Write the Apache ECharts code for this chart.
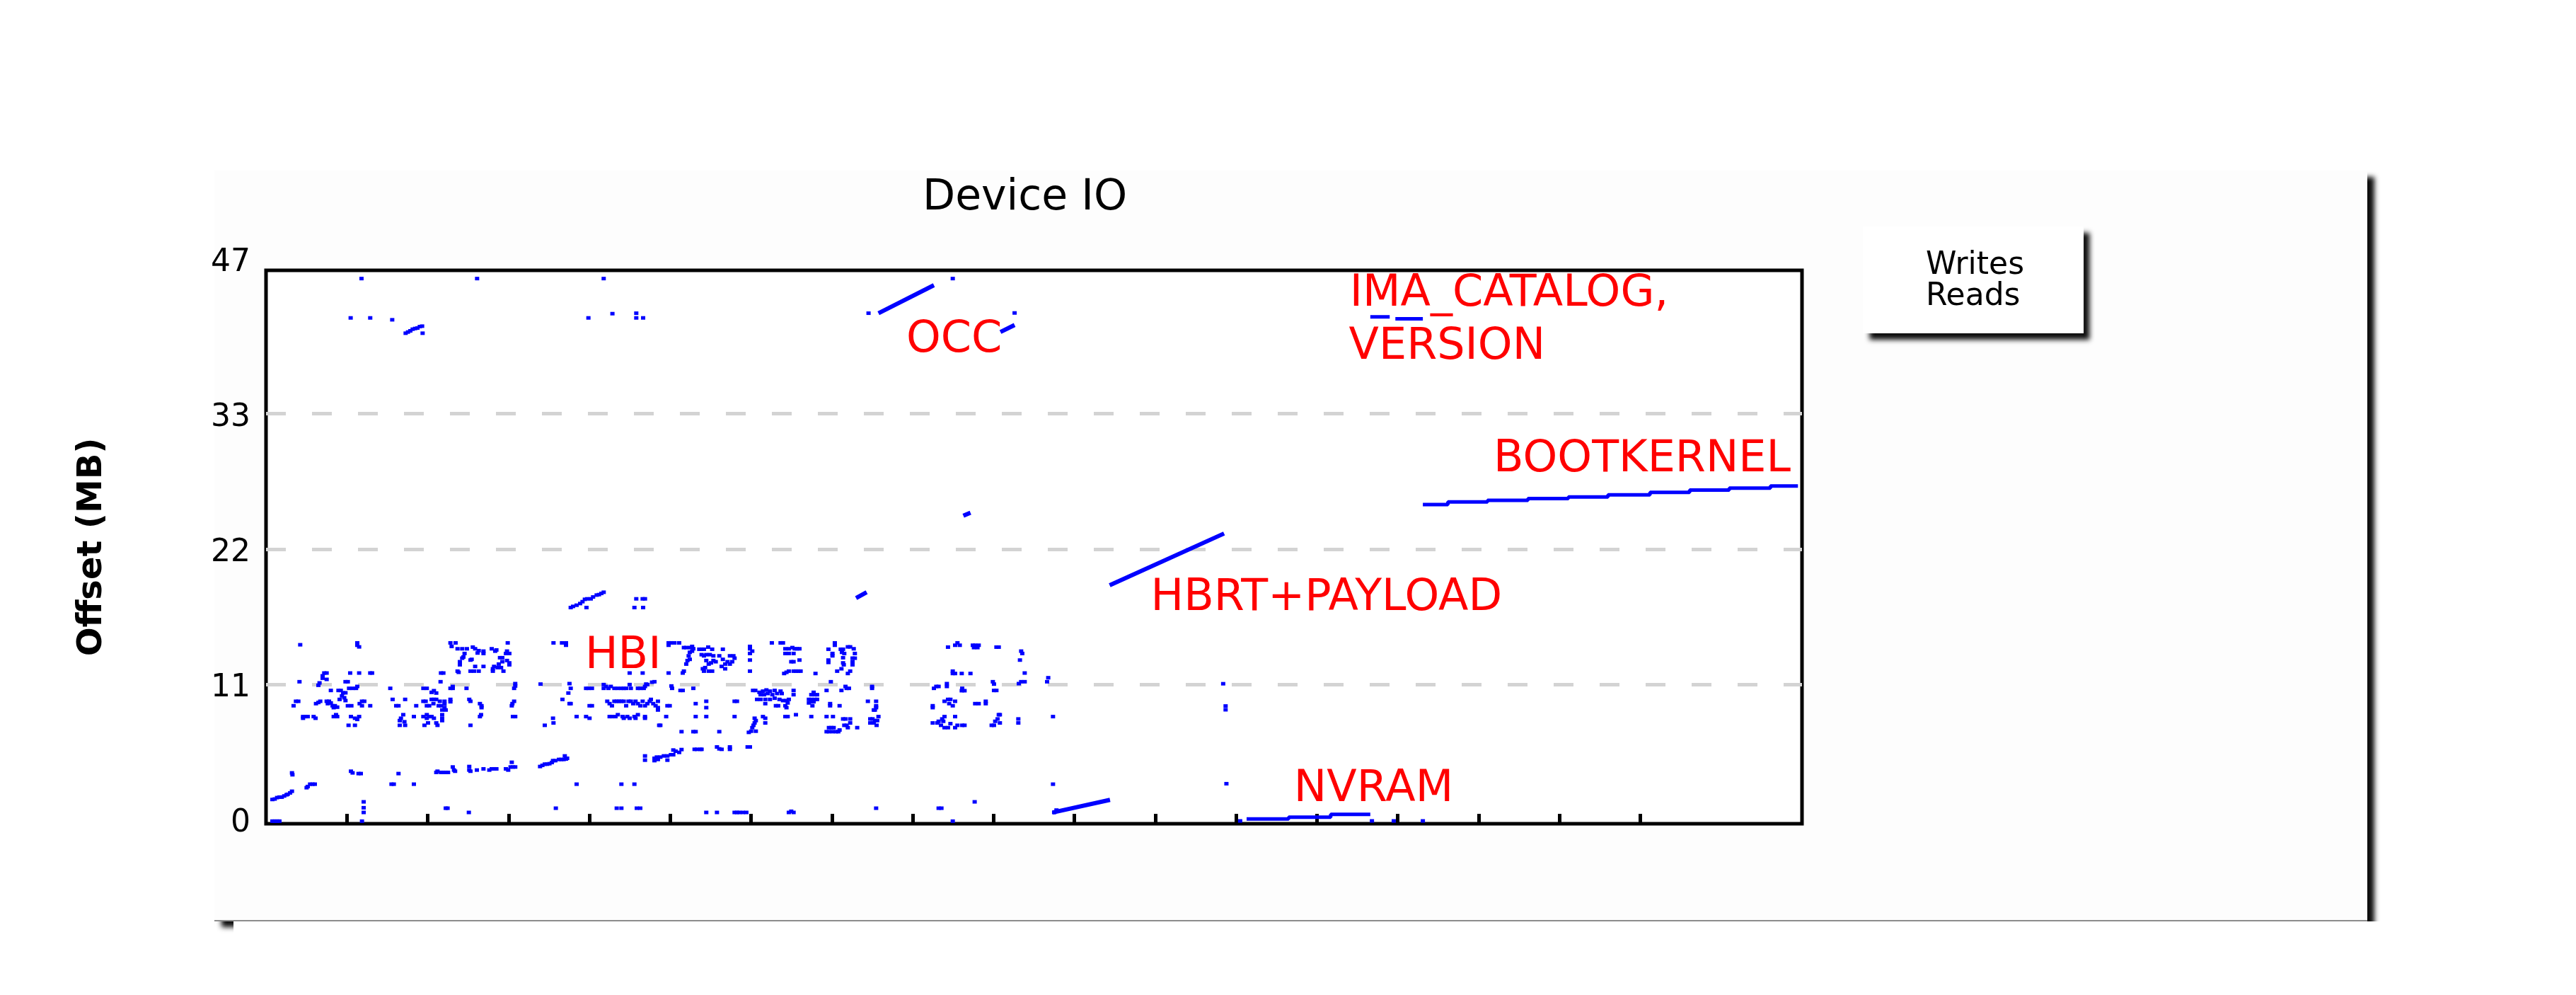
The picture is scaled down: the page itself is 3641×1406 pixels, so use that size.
<!DOCTYPE html>
<html>
<head>
<meta charset="utf-8">
<script src="https://cdn.jsdelivr.net/npm/echarts@6/dist/echarts.min.js"></script>
<style>
html,body{margin:0;padding:0;background:#ffffff;}
#chart{width:3641px;height:1406px;}
</style>
</head>
<body>
<div id="chart"></div>
<script>
// ---------- data (x: time ticks, y: offset in MB) ----------
const xTickValues = [1,2,3,4,5,6,7,8,9,10,11,12,13,14,15,16,17];
const yTickValues = [0, 11.84, 23.33, 34.82, 47];
const yTickLabels = ['0', '11', '22', '33', '47'];
const yGridValues = [11.84, 23.33, 34.82];
const legendNames = ['Writes', 'Reads'];

const readsTop = [
[1.181,46.3],[2.611,46.3],[4.177,46.3],[8.495,46.3],
[1.047,42.96],[1.289,42.96],[1.561,42.8],
[1.727,41.66],[1.756,41.76],[1.785,41.86],[1.814,42.0],[1.844,42.06],[1.873,42.1],[1.902,42.22],[1.931,42.26],[1.937,41.66],
[3.988,42.96],[4.285,43.32],[4.58,43.36],[4.58,42.96],[4.665,42.96],
[7.453,43.36],[9.26,43.38]
];

const readsMid = [
[3.769,18.36],[3.798,18.46],[3.842,18.56],[3.886,18.7],[3.915,18.86],[3.944,19.06],[3.973,19.1],[4.017,19.1],[4.046,19.26],[4.09,19.42],[4.119,19.46],[4.148,19.56],[4.177,19.66],[3.964,18.36],
[4.58,19.1],[4.659,19.1],[4.688,19.1],[4.557,18.36],[4.665,18.36]
];

const readsEarly = [
[0.423,15.2],[1.129,15.36],[1.129,15.16],[1.152,15.02],
[2.281,15.36],[2.345,15.36],[2.296,15.06],[2.369,14.86],[2.427,14.86],[2.485,14.86],[2.558,15.0],[2.587,14.86],[2.631,14.7],[2.69,14.66],[2.69,14.46],[2.617,14.5],[2.456,14.46],[2.442,14.16],[2.427,14.06],[2.398,13.76],[2.398,13.5],[2.544,13.96],[2.529,13.9],[2.587,13.36],[2.69,13.36],[2.369,12.96],[2.383,12.86],[2.529,12.96],[2.573,12.96],[2.631,12.96],[2.792,14.86],[2.85,14.76],[2.835,14.66],[2.894,14.1],[2.923,14.1],[2.981,14.66],[3.01,14.46],[2.967,14.46],[2.99,15.36],[2.981,13.86],[3.01,13.66],[3.01,13.5],[2.923,13.76],[2.879,13.56],[2.821,13.36],[2.806,13.16],[2.865,13.26],[2.908,13.26],[2.937,12.96],[2.806,12.96],
[0.72,12.8],[0.75,12.8],[0.70,12.56],[0.70,12.36],[0.75,12.26],[0.662,11.96],[0.648,11.76],[0.414,12.06],
[1.041,12.8],[1.152,12.8],[1.289,12.8],[1.313,12.8],
[0.983,12.06],[1.012,12.06],[1.027,11.5],[1.071,11.5],[1.114,11.5],[1.129,11.66],
[0.802,11.32],[0.896,11.32],[0.925,11.32],[0.954,11.12],[0.983,11.12],[0.939,10.86],[0.968,10.7],[0.91,10.56],[0.983,10.46],
[0.37,10.4],[0.40,10.4],[0.341,10.02],[0.618,10.2],[0.648,10.3],[0.671,10.4],
[0.75,10.4],[0.779,10.4],[0.802,10.26],[0.764,10.2],[0.823,10.02],[0.852,10.02],[0.881,9.9],[0.837,9.86],
[1.012,10.02],[1.056,10.02],[1.158,10.2],[1.187,10.4],[1.216,10.4],[1.187,10.02],[1.289,10.02],
[0.458,9.1],[0.487,9.1],[0.516,9.1],[0.458,8.96],[0.589,9.1],[0.613,8.96],[0.837,9.1],[0.866,9.26],[0.881,9.1],
[1.05,9.1],[1.10,8.96],[1.129,8.86],[1.152,9.1],[1.021,8.36],[1.10,8.36],
[1.537,11.5],[1.566,10.56],[1.61,10.02],[1.639,10.02],[1.721,10.56],[1.858,10.02],
[1.669,8.96],[1.654,8.76],[1.698,9.26],[1.712,8.66],[1.654,8.36],[1.721,8.36],[1.829,9.1],
[1.946,11.5],[1.989,11.5],[2.048,11.16],[2.077,11.3],[2.106,11.1],[2.159,12.06],[2.164,12.8],[2.194,12.8],
[1.946,10.4],[1.975,10.4],[1.989,10.02],[2.019,10.02],[2.048,10.56],[2.077,10.56],[2.106,10.56],[2.071,10.2],[2.135,10.02],[2.164,10.02],[2.15,10.4],[2.208,10.4],[2.208,10.16],[2.208,9.86],[2.179,9.66],[2.223,9.66],
[1.946,9.1],[1.989,9.26],[2.019,9.1],[2.048,9.1],[2.077,8.96],[1.989,8.96],[2.004,8.56],[1.96,8.36],[2.106,8.56],[2.121,8.36],[2.179,9.26],[2.179,8.96],[2.179,8.76],
[2.281,11.5],[2.31,11.66],[2.31,11.5],[2.48,11.5],[2.281,10.56],[2.281,10.36],[2.514,10.56],[2.529,10.4],
[2.646,10.2],[2.666,10.02],[2.666,9.86],[2.66,9.26],[2.646,9.1],[2.529,8.36],
[3.083,11.9],[3.083,11.7],[3.069,11.5],[3.069,10.4],[3.048,10.2],[3.04,10.02],[3.054,9.1],[3.083,9.1],
[0.321,4.32],[0.327,4.16],[0.516,3.16],[0.502,3.06],[0.545,3.36],[0.575,3.36],[0.604,3.36],
[0.079,2.06],[0.108,2.1],[0.137,2.22],[0.166,2.26],[0.195,2.26],[0.225,2.36],[0.254,2.46],[0.268,2.5],[0.298,2.62],[0.321,2.76],
[0.079,0.22],[0.108,0.22],[0.137,0.22],[0.166,0.22],
[1.05,4.46],[1.071,4.32],[1.144,4.26],[1.173,4.26],
[1.208,1.86],[1.208,1.36],[1.208,0.96],[1.187,0.22],
[1.552,3.36],[1.581,3.36],[1.639,4.26],[1.829,3.36],
[2.106,4.36],[2.121,4.46],[2.164,4.36],[2.194,4.36],[2.223,4.36],[2.252,4.36],[2.31,4.82],[2.325,4.56],[2.339,4.46],[2.514,4.86],[2.514,4.56],[2.529,4.46],[2.608,4.56],[2.69,4.66],[2.762,4.56],[2.792,4.66],[2.821,4.66],[2.85,4.66],[2.967,4.66],[2.996,4.56],[3.025,4.82],[3.054,4.82],[3.083,4.82],[3.04,5.22],
[2.223,1.32],[2.246,1.32],[2.509,0.96]
];

const readsMiddle = [
[3.556,15.36],[3.661,15.36],[3.711,15.36],[3.711,15.16],
[4.98,15.36],[5.009,15.36],[5.053,15.36],[5.111,15.36],[4.98,15.16],
[5.169,14.96],[5.198,14.96],[5.242,14.96],[5.271,15.06],[5.286,14.86],[5.242,14.56],[5.271,14.66],[5.228,14.26],[5.213,13.86],[5.198,13.56],[5.242,13.96],
[5.359,14.82],[5.388,14.82],[5.417,14.82],[5.47,15.0],[5.519,14.82],[5.651,14.82],
[5.388,14.36],[5.417,14.26],[5.446,14.36],[5.49,14.36],[5.534,14.26],[5.607,14.26],[5.651,13.96],[5.738,14.26],[5.782,14.26],[5.796,14.06],[5.767,13.76],[5.738,13.56],[5.709,13.76],[5.68,13.56],[5.636,13.36],[5.68,13.16],[5.563,13.76],[5.534,13.86],[5.505,13.66],[5.446,13.86],[5.476,13.56],[5.432,13.26],[5.403,13.16],[5.476,12.96],[5.519,12.96],[5.417,12.96],
[5.986,15.06],[5.986,14.86],[6.015,14.66],[5.986,14.46],[5.986,13.9],[5.986,12.96],
[6.257,15.36],[6.365,15.36],[6.395,15.36],[6.424,14.86],[6.467,14.86],[6.424,14.46],[6.467,14.46],[6.497,13.76],[6.409,12.76],[6.438,12.86],[6.467,12.96],
[4.498,12.8],[4.659,12.8],[4.98,12.8],[5.155,12.8],[5.169,12.96],
[3.396,11.86],[3.754,11.9],[3.769,11.5],[3.74,11.1],[3.667,10.56],[3.754,10.2],[3.769,10.2],
[3.959,11.5],[3.988,11.5],[4.032,11.5],[4.177,11.82],[4.177,11.5],[4.207,11.66],[4.236,11.5],[4.265,11.66],[4.309,11.5],[4.352,11.5],[4.396,11.5],[4.425,11.5],[4.455,11.5],[4.498,11.82],[4.513,11.5],[4.6,11.5],[4.63,11.5],[4.688,11.66],[4.702,11.86],[4.673,11.5],[4.717,11.82],[4.775,12.02],[4.805,12.06],
[4.002,10.02],[4.032,10.02],[4.221,10.4],[4.25,10.2],[4.279,10.02],[4.309,10.4],[4.338,10.4],[4.367,10.4],[4.396,10.4],[4.425,10.4],[4.455,10.02],[4.484,10.4],[4.513,10.4],[4.542,10.2],[4.571,10.4],[4.6,10.2],[4.63,10.02],[4.659,10.4],[4.688,10.02],[4.717,10.2],[4.746,10.4],[4.761,10.56],[4.79,10.2],[4.819,10.02],[4.848,10.4],[4.848,9.86],[4.848,9.66],[4.965,10.02],[4.994,10.02],
[3.842,9.1],[3.959,9.1],[4.002,8.96],[4.25,9.1],[4.279,9.1],[4.323,9.1],[4.352,9.26],[4.411,9.1],[4.425,8.96],[4.469,9.1],[4.498,8.96],[4.557,9.1],[4.571,8.96],[4.6,9.26],[4.688,9.1],[4.688,8.96],[4.95,9.1],[4.863,8.36],[4.878,8.36],
[5.015,11.7],[5.023,11.5],[5.126,11.32],[5.155,11.32],[5.286,11.5],[5.315,10.2],[5.446,10.4],[5.446,9.86],[5.315,9.1],[5.446,9.1],[5.796,10.4],[5.826,10.4],[5.796,9.1],
[3.448,8.36],[3.55,8.96],[3.556,8.56],
[6.024,11.32],[6.053,11.32],[6.103,11.16],[6.147,11.26],[6.19,11.36],[6.234,11.26],[6.292,11.32],[6.365,11.26],[6.117,10.96],[6.161,10.96],[6.205,11.06],[6.263,10.96],[6.322,11.06],[6.38,11.06],[6.074,10.56],[6.117,10.56],[6.176,10.56],[6.234,10.56],[6.292,10.66],[6.351,10.56],[6.395,10.46],[6.438,10.46],[6.453,10.26],[6.467,10.56],[6.176,10.2],[6.307,10.02],[6.336,10.02],[6.424,10.02],[6.438,9.86],
[6.147,9.1],[6.176,8.96],[6.176,8.56],[6.424,9.1],[6.453,9.1],
[6.044,8.96],[6.059,8.76],[6.044,8.56],[6.03,8.36],[6.015,8.16],[6.001,7.86],[6.059,7.86],[5.972,7.76],
[5.14,7.82],[5.286,7.82],[5.315,7.82],[5.607,7.82],
[5.038,6.26],[5.067,6.16],[5.14,6.3],[5.111,6.06],[5.038,5.86],[5.009,5.86],[4.965,5.76],[4.921,5.76],[4.878,5.66],[4.834,5.66],[4.805,5.56],[4.805,5.36],[4.848,5.46],[4.965,5.4],[4.688,5.76],[4.688,5.4],
[5.301,6.32],[5.33,6.32],[5.373,6.32],[5.388,6.32],[5.578,6.52],[5.607,6.36],[5.636,6.32],[5.738,6.52],[5.738,6.32],[5.957,6.52],[5.986,6.52],
[3.39,4.86],[3.419,4.96],[3.448,5.06],[3.477,5.06],[3.506,5.1],[3.536,5.2],[3.55,5.36],[3.579,5.36],[3.623,5.46],[3.652,5.46],[3.682,5.46],[3.711,5.5],[3.696,5.76],[3.725,5.56],
[3.842,3.36],[4.396,3.36],[4.557,3.36],
[3.585,1.32],[4.338,1.32],[4.396,1.32],[4.586,1.32],[4.63,1.32],
[5.446,0.96],[5.578,0.96],[5.796,0.96],[5.826,0.96],[5.855,0.96],[5.899,0.96],[5.942,0.96],[6.467,0.96],[6.497,1.06]
];

const readsLate = [
[6.511,14.96],[6.54,14.86],[6.569,14.86],[6.599,14.86],[6.526,14.46],[6.599,13.9],[6.526,13.76],[6.526,12.96],[6.555,12.96],[6.584,12.96],[6.613,12.96],
[7.036,15.36],[7.036,15.16],[6.957,14.82],[7.007,14.46],[7.007,14.26],[6.957,13.9],[6.957,13.7],[7.109,14.82],[7.138,14.82],[7.124,14.56],[7.153,14.46],[7.197,15.02],[7.226,15.02],[7.27,14.86],[7.284,14.46],[7.255,14.06],[7.284,14.06],[7.255,13.76],[7.255,13.5],[7.138,14.1],[7.138,13.66],[7.147,13.5],[7.118,13.16],[7.065,12.96],[7.226,12.96],[7.197,12.76],[6.797,12.76],
[8.553,15.36],[8.524,15.16],[8.582,15.16],[8.436,15.0],[8.743,15.16],[8.772,15.16],[8.816,15.16],[8.757,14.96],[8.801,14.96],[9.035,15.0],[9.064,15.0],
[9.341,14.66],[9.355,14.46],[9.326,13.9],[9.385,12.8],
[8.495,12.96],[8.495,12.76],[8.524,12.76],[8.606,12.76],[8.714,12.76],
[6.526,11.32],[6.526,10.96],[6.774,11.16],[6.745,10.96],[6.788,10.96],[6.817,10.96],[6.715,10.56],[6.745,10.56],[6.788,10.56],[6.817,10.56],[6.715,10.26],[6.745,10.36],[6.774,10.36],[6.759,10.02],[6.555,9.26],[6.745,9.1],
[6.987,12.06],[6.934,11.32],[7.118,11.32],[7.168,11.66],[7.182,11.5],[7.211,11.5],[6.978,10.2],[6.978,10.02],[7.095,10.02],[6.934,9.1],[7.013,9.1],
[7.138,8.9],[7.168,8.9],[7.226,8.9],[7.226,8.56],[7.153,8.36],[7.182,8.36],[7.197,8.16],[7.313,8.16],[6.963,8.16],[6.993,8.16],[7.022,8.16],[6.934,7.82],[6.963,7.82],[7.007,7.82],[7.051,7.82],[7.08,7.82],[7.095,7.96],
[7.497,11.66],[7.497,11.5],[7.445,10.4],[7.547,10.4],[7.547,10.02],[7.547,9.86],[7.532,9.66],[7.518,9.66],[7.576,9.1],[7.474,8.9],[7.503,8.9],[7.532,8.76],[7.561,8.76],[7.474,8.56],[7.518,8.56],[7.553,8.36],
[8.262,11.5],[8.291,11.66],[8.32,11.66],[8.422,11.9],[8.422,11.66],[8.612,11.5],[8.641,11.3],[8.606,11.3],
[8.393,10.4],[8.436,10.56],[8.466,10.56],[8.451,10.2],[8.495,10.02],[8.524,10.4],[8.247,10.02],[8.247,9.86],[8.772,10.2],[8.816,10.2],[8.903,10.4],[8.903,10.2],
[8.393,9.1],[8.524,9.1],[8.364,8.9],[8.32,8.7],[8.378,8.7],[8.247,8.56],[8.305,8.56],[8.349,8.36],[8.393,8.16],[8.436,8.16],[8.466,8.5],[8.524,8.16],[8.553,8.36],[8.612,8.36],[8.641,8.36],
[8.991,12.06],[9.005,11.86],[9.005,11.32],[9.035,11.32],[9.064,9.26],[9.078,9.26],[9.049,8.9],[9.02,8.7],[9.078,8.56],[8.976,8.36],[9.005,8.36],
[9.312,11.9],[9.341,12.06],[9.385,12.06],[9.306,8.9],[9.306,8.56],
[9.676,12.4],[9.662,12.06],[9.735,9.1],
[9.735,3.36],[8.766,1.86],[8.32,1.32],[8.355,1.32],[7.547,1.32],[6.526,0.96],[9.749,0.96],[9.778,1.16],[8.495,0.22],
[11.84,11.89],[11.87,10.0],[11.87,9.68],[11.88,3.4],[12.05,0.24],[13.68,0.24],[13.95,0.24],[14.31,0.24]
];

// sequential runs (drawn as lines through the read-off end points)
const occRun = [[7.576,43.36],[8.262,45.74]];
const occTail = [[9.085,41.76],[9.26,42.36]];
const run26 = [[8.626,26.16],[8.714,26.42]];
const run19 = [[7.299,19.16],[7.43,19.66]];
const hbrtRun = [[10.436,20.26],[11.851,24.65]];
const lowRun = [[9.73,0.95],[10.44,2.03]];
const imaRunA = [[13.66,43.05],[13.9,43.05]];
const imaRunB = [[13.97,42.88],[14.31,42.88]];
const nvramSteps = [[12.13,0.4],[12.65,0.56],[13.17,0.79],[13.66,0.79]];
const bootkernelSteps = [[14.31,27.1],[14.62,27.33],[15.11,27.46],[15.61,27.62],[16.11,27.75],[16.6,27.94],[17.12,28.14],[17.61,28.34],[18.1,28.5],[18.61,28.69],[18.95,28.69]];

const annotationTexts = ['HBI', 'OCC', 'HBRT+PAYLOAD', 'NVRAM', 'IMA_CATALOG,', 'VERSION', 'BOOTKERNEL'];
const annotationAnchors = [[3.982,14.49],[7.955,41.37],[10.98,19.42],[12.75,3.22],[13.44,45.24],[13.43,40.77],[15.22,31.17]];

// ---------- chart ----------
const BLUE = '#0000ff';
const FONT = 'DejaVu Sans';
const chart = echarts.init(document.getElementById('chart'), null, {renderer: 'canvas'});

function pointSeries(name, data) {
  return {
    name: name, type: 'scatter', data: data,
    symbol: 'rect', symbolSize: [6, 5],
    itemStyle: {color: BLUE, opacity: 1},
    emphasis: {disabled: true}, silent: true, z: 3
  };
}
function runSeries(name, data, step, width) {
  return {
    name: name, type: 'line', data: data, step: step || false,
    symbol: 'none', showSymbol: false,
    lineStyle: {color: BLUE, width: width, cap: 'butt'},
    itemStyle: {color: BLUE},
    emphasis: {disabled: true}, silent: true, z: 3, animation: false
  };
}

const series = [
  runSeries('Writes', nvramSteps, 'end', 5),
  pointSeries('Reads', readsTop),
  pointSeries('Reads', readsMid),
  pointSeries('Reads', readsEarly),
  pointSeries('Reads', readsMiddle),
  pointSeries('Reads', readsLate),
  runSeries('Reads', occRun, false, 6),
  runSeries('Reads', occTail, false, 6),
  runSeries('Reads', run26, false, 6),
  runSeries('Reads', run19, false, 6),
  runSeries('Reads', hbrtRun, false, 6),
  runSeries('Reads', lowRun, false, 6),
  runSeries('Reads', imaRunA, false, 5),
  runSeries('Reads', imaRunB, false, 5),
  runSeries('Reads', bootkernelSteps, 'end', 5),
  {
    name: 'annotations', type: 'scatter', symbolSize: 0, silent: true, z: 5,
    data: annotationTexts.map((t, i) => ({name: t, value: annotationAnchors[i]})),
    label: {
      show: true, formatter: '{b}', position: [0, 0], offset: [-4, 5],
      align: 'left', verticalAlign: 'middle',
      color: '#ff0000', opacity: 1, textBorderWidth: 0, textShadowBlur: 0,
      fontSize: 62, fontFamily: FONT
    },
    emphasis: {disabled: true}
  }
];

const option = {
  animation: false,
  backgroundColor: '#ffffff',
  graphic: [
    {type: 'rect', z: -100, silent: true,
     shape: {x: 303, y: 241, width: 3043, height: 1060},
     style: {fill: '#fdfdfd', shadowBlur: 7, shadowColor: 'rgba(0,0,0,0.95)', shadowOffsetX: 10, shadowOffsetY: 9}},
    {type: 'rect', z: -99, silent: true,
     shape: {x: 330, y: 1302, width: 3080, height: 30},
     style: {fill: '#ffffff'}},
    {type: 'line', z: -98, silent: true,
     shape: {x1: 303, y1: 1301, x2: 3346, y2: 1301},
     style: {stroke: '#8c8c8c', lineWidth: 2}}
  ],
  title: {
    text: 'Device IO', left: 1304, top: 250, padding: 0,
    textStyle: {fontSize: 60, fontWeight: 'normal', color: '#000', fontFamily: FONT}
  },
  legend: {
    data: legendNames, orient: 'vertical', left: 2633, top: 320,
    icon: 'none', itemWidth: 0, itemHeight: 44, itemGap: 0,
    padding: [34, 84, 29, 84],
    backgroundColor: '#ffffff',
    shadowBlur: 7, shadowColor: 'rgba(0,0,0,0.95)', shadowOffsetX: 9, shadowOffsetY: 9,
    selectedMode: false,
    textStyle: {fontSize: 44, lineHeight: 44, color: '#000', fontFamily: FONT}
  },
  grid: {
    left: 376, right: 1094, top: 382, bottom: 242,
    show: true, borderColor: '#000', borderWidth: 5, backgroundColor: '#ffffff'
  },
  xAxis: {
    type: 'value', min: 0, max: 19,
    axisLine: {show: false},
    axisTick: {show: true, inside: true, length: 14, customValues: xTickValues, lineStyle: {color: '#000', width: 5}},
    axisLabel: {show: false},
    splitLine: {show: false}
  },
  yAxis: {
    type: 'value', min: 0, max: 47,
    name: 'Offset (MB)', nameLocation: 'middle', nameGap: 221,
    nameTextStyle: {fontSize: 48, fontWeight: 'bold', color: '#000', fontFamily: FONT},
    axisLine: {show: false},
    axisTick: {show: false, customValues: yGridValues},
    splitLine: {show: true, lineStyle: {color: '#d3d3d3', width: 5, type: [28, 37]}},
    axisLabel: {
      show: true, margin: 22, customValues: yTickValues,
      color: '#000', fontSize: 44, fontFamily: FONT,
      formatter: function (v) {
        let idx = 0, best = Infinity;
        yTickValues.forEach((t, i) => { const d = Math.abs(t - v); if (d < best) { best = d; idx = i; } });
        const txt = yTickLabels[idx];
        if (idx === 0) return '{b|' + txt + '}';
        if (idx === yTickValues.length - 1) return '{t|' + txt + '}';
        return '{m|' + txt + '}';
      },
      rich: {
        b: {fontSize: 44, fontFamily: FONT, color: '#000'},
        m: {fontSize: 44, fontFamily: FONT, color: '#000', padding: [12, 0, 0, 0]},
        t: {fontSize: 44, fontFamily: FONT, color: '#000', padding: [0, 0, 20, 0]}
      }
    }
  },
  series: series
};
chart.setOption(option);
</script>
</body>
</html>
